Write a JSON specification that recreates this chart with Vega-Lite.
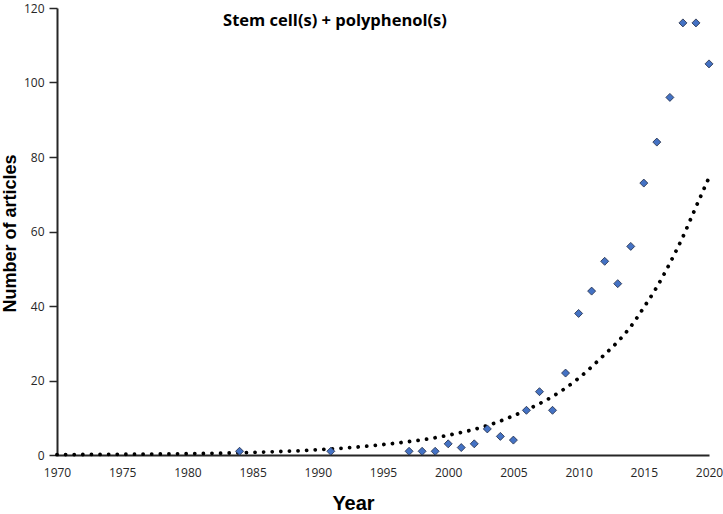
{
  "$schema": "https://vega.github.io/schema/vega-lite/v6.json",
  "width": 652,
  "height": 447,
  "autosize": {"type": "none"},
  "padding": {"left": 57, "top": 8, "right": 14, "bottom": 59},
  "background": "white",
  "title": {
    "text": "Stem cell(s) + polyphenol(s)",
    "anchor": "middle",
    "offset": -27,
    "dx": -48,
    "font": "Open Sans",
    "fontSize": 16.5,
    "fontWeight": "bold",
    "color": "black"
  },
  "config": {
    "view": {"stroke": null},
    "axis": {
      "grid": false,
      "domainColor": "#262626",
      "domainWidth": 2,
      "tickColor": "#262626",
      "tickWidth": 1.5,
      "labelFont": "Open Sans",
      "labelFontSize": 12,
      "labelColor": "#262626",
      "titleFont": "Liberation Sans",
      "titleFontWeight": "bold",
      "titleColor": "black"
    }
  },
  "datasets": {
    "articles": [
      {"year": 1984, "count": 1},
      {"year": 1991, "count": 1},
      {"year": 1997, "count": 1},
      {"year": 1998, "count": 1},
      {"year": 1999, "count": 1},
      {"year": 2000, "count": 3},
      {"year": 2001, "count": 2},
      {"year": 2002, "count": 3},
      {"year": 2003, "count": 7},
      {"year": 2004, "count": 5},
      {"year": 2005, "count": 4},
      {"year": 2006, "count": 12},
      {"year": 2007, "count": 17},
      {"year": 2008, "count": 12},
      {"year": 2009, "count": 22},
      {"year": 2010, "count": 38},
      {"year": 2011, "count": 44},
      {"year": 2012, "count": 52},
      {"year": 2013, "count": 46},
      {"year": 2014, "count": 56},
      {"year": 2015, "count": 73},
      {"year": 2016, "count": 84},
      {"year": 2017, "count": 96},
      {"year": 2018, "count": 116},
      {"year": 2019, "count": 116},
      {"year": 2020, "count": 105}
    ],
    "trend": [
      {"year": 1970, "value": 0.1},
      {"year": 1975, "value": 0.2},
      {"year": 1980, "value": 0.35},
      {"year": 1985, "value": 0.7},
      {"year": 1990, "value": 1.4},
      {"year": 1995, "value": 2.8},
      {"year": 2000, "value": 5.3},
      {"year": 2003, "value": 7.9},
      {"year": 2006, "value": 12.1},
      {"year": 2008, "value": 15.7},
      {"year": 2010, "value": 20.6},
      {"year": 2012, "value": 27.0},
      {"year": 2013, "value": 30.4},
      {"year": 2014, "value": 34.5},
      {"year": 2015, "value": 39.6},
      {"year": 2016, "value": 45.1},
      {"year": 2017, "value": 51.5},
      {"year": 2018, "value": 58.6},
      {"year": 2019, "value": 66.6},
      {"year": 2020, "value": 74.5}
    ]
  },
  "layer": [
    {
      "data": {"name": "trend"},
      "mark": {
        "type": "line",
        "interpolate": "monotone",
        "color": "black",
        "strokeWidth": 3.8,
        "strokeCap": "round",
        "strokeDash": [0.01, 8.6]
      },
      "encoding": {
        "x": {"field": "year", "type": "quantitative"},
        "y": {"field": "value", "type": "quantitative"}
      }
    },
    {
      "data": {"name": "articles"},
      "mark": {
        "type": "point",
        "shape": "diamond",
        "filled": true,
        "size": 64,
        "fill": "#4472C4",
        "stroke": "#1F2A44",
        "strokeWidth": 0.8,
        "opacity": 1,
        "fillOpacity": 1
      },
      "encoding": {
        "x": {
          "field": "year",
          "type": "quantitative",
          "scale": {"domain": [1970, 2020], "nice": false, "zero": false},
          "axis": {
            "title": "Year",
            "titleFontSize": 20,
            "titleX": 296,
            "titleY": 54,
            "titleBaseline": "alphabetic",
            "values": [1970, 1975, 1980, 1985, 1990, 1995, 2000, 2005, 2010, 2015, 2020],
            "format": "d",
            "ticks": false,
            "labelPadding": 12,
            "labelFlush": false
          }
        },
        "y": {
          "field": "count",
          "type": "quantitative",
          "scale": {"domain": [0, 120], "nice": false},
          "axis": {
            "title": "Number of articles",
            "titleFontSize": 18,
            "titleAngle": -90,
            "titleX": -47,
            "titleY": 225,
            "titleAlign": "center",
            "titleBaseline": "middle",
            "values": [0, 20, 40, 60, 80, 100, 120],
            "tickSize": 8,
            "labelPadding": 5
          }
        }
      }
    }
  ]
}
